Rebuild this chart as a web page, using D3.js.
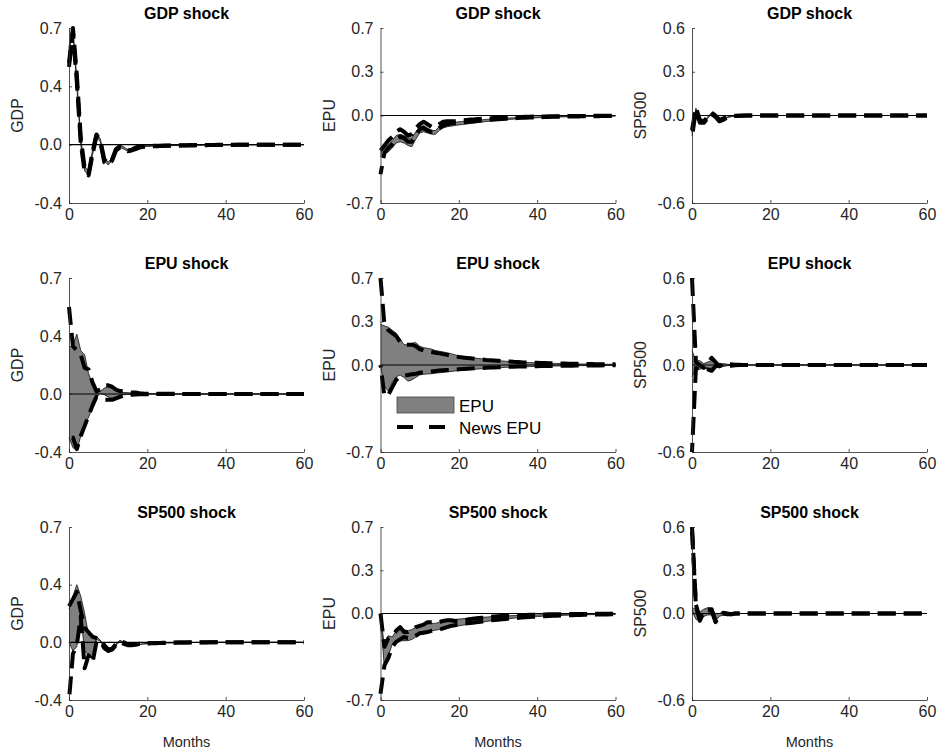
<!DOCTYPE html>
<html><head><meta charset="utf-8">
<script src="https://cdn.jsdelivr.net/npm/d3@7"></script>
<style>
html,body{margin:0;padding:0;background:#fff;}
svg{display:block;font-family:"Liberation Sans",Arial,Helvetica,sans-serif;}
</style></head><body>
<svg id="chart" width="940" height="755"></svg>
<script>
// ---------- categories / ticks ----------
const months = d3.range(0, 61);
const shockTitles = ["GDP shock", "EPU shock", "SP500 shock"];
const responseNames = ["GDP", "EPU", "SP500"];
const xTickValues = [0, 20, 40, 60];
const yTickValues = [[-0.4, 0, 0.4, 0.7], [-0.7, 0, 0.3, 0.7], [-0.6, 0, 0.3, 0.6]];
const yTickLabels = [["-0.4", "0.0", "0.4", "0.7"], ["-0.7", "0.0", "0.3", "0.7"], ["-0.6", "0.0", "0.3", "0.6"]];
const legendLabels = ["EPU", "News EPU"];
const xAxisLabel = "Months";

// ---------- GDP shock -> GDP ----------
const gdpGdpEpuHi = [0.60,0.70,0.44,0.04,-0.15,-0.18,-0.04,0.07,0.04,-0.09,-0.12,
 -0.09,-0.02,-0.005,-0.015,-0.035,-0.03,-0.02,-0.01,-0.008,-0.006,
 -0.006,-0.005,-0.005,-0.004,-0.004,-0.004,-0.003,-0.003,-0.003,-0.002,
 -0.002,-0.002,-0.002,-0.002,-0.001,-0.001,-0.001,-0.001,-0.001,-0.001,
 0,0,0,0,0,0,0,0,0,0,
 0,0,0,0,0,0,0,0,0,0];
const gdpGdpEpuLo = [0.58,0.68,0.40,0.00,-0.18,-0.21,-0.07,0.05,0.02,-0.11,-0.14,
 -0.11,-0.04,-0.02,-0.03,-0.045,-0.04,-0.03,-0.02,-0.015,-0.012,
 -0.011,-0.010,-0.009,-0.008,-0.008,-0.007,-0.006,-0.006,-0.005,-0.005,
 -0.004,-0.004,-0.004,-0.003,-0.003,-0.003,-0.002,-0.002,-0.002,-0.002,
 -0.002,-0.001,-0.001,-0.001,-0.001,-0.001,-0.001,-0.001,0,0,
 0,0,0,0,0,0,0,0,0,0];
const gdpGdpNewsHi = [0.52,0.70,0.46,0.05,-0.16,-0.20,-0.05,0.07,0.03,-0.10,-0.13,
 -0.10,-0.03,-0.01,-0.02,-0.04,-0.035,-0.02,-0.01,-0.01,-0.008,
 -0.008,-0.007,-0.007,-0.006,-0.006,-0.005,-0.005,-0.004,-0.004,-0.004,
 -0.003,-0.003,-0.003,-0.002,-0.002,-0.002,-0.002,-0.001,-0.001,-0.001,
 0,0,0,0,0,0,0,0,0,0,
 0,0,0,0,0,0,0,0,0,0];
const gdpGdpNewsLo = [0.50,0.68,0.42,0.01,-0.19,-0.21,-0.07,0.06,0.02,-0.12,-0.14,
 -0.11,-0.04,-0.02,-0.03,-0.045,-0.04,-0.03,-0.02,-0.015,-0.012,
 -0.011,-0.010,-0.010,-0.009,-0.008,-0.008,-0.007,-0.007,-0.006,-0.006,
 -0.005,-0.005,-0.004,-0.004,-0.004,-0.003,-0.003,-0.003,-0.002,-0.002,
 -0.002,-0.002,-0.001,-0.001,-0.001,-0.001,-0.001,-0.001,0,0,
 0,0,0,0,0,0,0,0,0,0];

// ---------- GDP shock -> EPU ----------
const gdpEpuEpuHi = [-0.29,-0.26,-0.23,-0.20,-0.16,-0.15,-0.16,-0.18,-0.18,-0.13,-0.09,
 -0.08,-0.10,-0.12,-0.12,-0.09,-0.07,-0.06,-0.06,-0.055,-0.05,
 -0.048,-0.045,-0.042,-0.040,-0.037,-0.034,-0.031,-0.029,-0.027,-0.025,
 -0.023,-0.021,-0.019,-0.018,-0.016,-0.015,-0.014,-0.013,-0.012,-0.011,
 -0.010,-0.009,-0.009,-0.008,-0.007,-0.007,-0.006,-0.006,-0.005,-0.005,
 -0.005,-0.004,-0.004,-0.004,-0.003,-0.003,-0.003,-0.003,-0.002,-0.002];
const gdpEpuEpuLo = [-0.33,-0.31,-0.29,-0.26,-0.22,-0.21,-0.22,-0.24,-0.25,-0.19,-0.14,
 -0.13,-0.14,-0.15,-0.15,-0.12,-0.10,-0.09,-0.085,-0.08,-0.075,
 -0.072,-0.068,-0.064,-0.060,-0.056,-0.052,-0.048,-0.045,-0.042,-0.039,
 -0.036,-0.033,-0.031,-0.029,-0.027,-0.025,-0.023,-0.021,-0.019,-0.018,
 -0.017,-0.016,-0.015,-0.014,-0.013,-0.012,-0.011,-0.010,-0.009,-0.009,
 -0.008,-0.008,-0.007,-0.007,-0.006,-0.006,-0.005,-0.005,-0.005,-0.004];
const gdpEpuNewsHi = [-0.28,-0.24,-0.20,-0.17,-0.13,-0.11,-0.13,-0.16,-0.15,-0.10,-0.07,
 -0.05,-0.07,-0.09,-0.09,-0.07,-0.05,-0.045,-0.045,-0.045,-0.04,
 -0.038,-0.035,-0.032,-0.030,-0.027,-0.025,-0.023,-0.021,-0.019,-0.017,
 -0.016,-0.015,-0.014,-0.013,-0.012,-0.011,-0.010,-0.009,-0.008,-0.008,
 -0.007,-0.007,-0.006,-0.006,-0.005,-0.005,-0.005,-0.004,-0.004,-0.004,
 -0.003,-0.003,-0.003,-0.003,-0.002,-0.002,-0.002,-0.002,-0.002,-0.001];
const gdpEpuNewsLo = [-0.47,-0.30,-0.26,-0.23,-0.19,-0.17,-0.18,-0.21,-0.21,-0.16,-0.11,
 -0.10,-0.12,-0.13,-0.13,-0.10,-0.08,-0.07,-0.065,-0.06,-0.058,
 -0.055,-0.052,-0.049,-0.046,-0.043,-0.040,-0.037,-0.035,-0.032,-0.030,
 -0.028,-0.026,-0.024,-0.022,-0.021,-0.019,-0.018,-0.017,-0.016,-0.015,
 -0.014,-0.013,-0.012,-0.011,-0.010,-0.010,-0.009,-0.008,-0.008,-0.007,
 -0.007,-0.006,-0.006,-0.005,-0.005,-0.005,-0.004,-0.004,-0.004,-0.003];

// ---------- GDP shock -> SP500 ----------
const gdpSpEpuHi = [-0.12,0.05,-0.03,-0.04,-0.01,0.02,0.0,-0.03,-0.025,-0.01,-0.005,
 -0.003,-0.002,-0.001,0,0,0,0,0,0,0,
 0,0,0,0,0,0,0,0,0,0,
 0,0,0,0,0,0,0,0,0,0,
 0,0,0,0,0,0,0,0,0,0,
 0,0,0,0,0,0,0,0,0,0];
const gdpSpEpuLo = [-0.14,0.04,-0.05,-0.05,-0.02,0.01,-0.01,-0.04,-0.03,-0.015,-0.008,
 -0.005,-0.003,-0.002,-0.001,-0.001,0,0,0,0,0,
 0,0,0,0,0,0,0,0,0,0,
 0,0,0,0,0,0,0,0,0,0,
 0,0,0,0,0,0,0,0,0,0,
 0,0,0,0,0,0,0,0,0,0];
const gdpSpNewsHi = [-0.10,0.055,-0.03,-0.04,-0.01,0.02,0.0,-0.03,-0.02,-0.01,-0.005,
 -0.002,-0.001,0,0,0,0,0,0,0,0,
 0,0,0,0,0,0,0,0,0,0,
 0,0,0,0,0,0,0,0,0,0,
 0,0,0,0,0,0,0,0,0,0,
 0,0,0,0,0,0,0,0,0,0];
const gdpSpNewsLo = [-0.15,0.04,-0.05,-0.05,-0.02,0.01,-0.01,-0.04,-0.03,-0.015,-0.008,
 -0.004,-0.002,-0.001,0,0,0,0,0,0,0,
 0,0,0,0,0,0,0,0,0,0,
 0,0,0,0,0,0,0,0,0,0,
 0,0,0,0,0,0,0,0,0,0,
 0,0,0,0,0,0,0,0,0,0];

// ---------- EPU shock -> GDP ----------
const epuGdpEpuHi = [0.32,0.34,0.41,0.30,0.27,0.14,0.07,0.005,0.02,0.04,0.05,
 0.04,0.03,0.02,0.01,0.01,0.005,0.003,0.002,0.001,0.001,
 0.001,0.001,0,0,0,0,0,0,0,0,
 0,0,0,0,0,0,0,0,0,0,
 0,0,0,0,0,0,0,0,0,0,
 0,0,0,0,0,0,0,0,0,0];
const epuGdpEpuLo = [-0.30,-0.37,-0.39,-0.29,-0.22,-0.16,-0.09,-0.02,0.005,-0.005,-0.02,
 -0.03,-0.02,-0.01,-0.005,-0.003,-0.002,-0.001,0,0,0,
 0,0,0,0,0,0,0,0,0,0,
 0,0,0,0,0,0,0,0,0,0,
 0,0,0,0,0,0,0,0,0,0,
 0,0,0,0,0,0,0,0,0,0];
const epuGdpNewsHi = [0.55,0.33,0.30,0.27,0.18,0.17,0.08,0.02,0.03,0.06,0.06,
 0.05,0.03,0.02,0.02,0.015,0.01,0.01,0.005,0.003,0.002,
 0.002,0.002,0.001,0.001,0.001,0.001,0.001,0,0,0,
 0,0,0,0,0,0,0,0,0,0,
 0,0,0,0,0,0,0,0,0,0,
 0,0,0,0,0,0,0,0,0,0];
const epuGdpNewsLo = [-0.32,-0.30,-0.38,-0.29,-0.22,-0.15,-0.08,-0.02,-0.03,-0.04,-0.04,
 -0.04,-0.03,-0.02,-0.01,-0.01,-0.005,-0.003,-0.002,-0.001,-0.001,
 -0.001,0,0,0,0,0,0,0,0,0,
 0,0,0,0,0,0,0,0,0,0,
 0,0,0,0,0,0,0,0,0,0,
 0,0,0,0,0,0,0,0,0,0];

// ---------- EPU shock -> EPU ----------
const epuEpuEpuHi = [0.28,0.27,0.26,0.24,0.22,0.18,0.14,0.14,0.15,0.155,0.13,
 0.12,0.115,0.11,0.10,0.095,0.09,0.085,0.078,0.07,0.063,
 0.059,0.055,0.051,0.048,0.045,0.042,0.039,0.036,0.033,0.030,
 0.028,0.026,0.024,0.022,0.021,0.019,0.018,0.017,0.016,0.015,
 0.014,0.013,0.012,0.011,0.011,0.010,0.009,0.009,0.008,0.008,
 0.007,0.007,0.006,0.006,0.006,0.005,0.005,0.005,0.005,0.004];
const epuEpuEpuLo = [0.0,-0.17,-0.21,-0.14,-0.095,-0.08,-0.10,-0.13,-0.12,-0.10,-0.08,
 -0.075,-0.072,-0.07,-0.066,-0.062,-0.06,-0.056,-0.052,-0.048,-0.045,
 -0.042,-0.040,-0.037,-0.035,-0.032,-0.030,-0.028,-0.026,-0.024,-0.022,
 -0.021,-0.019,-0.018,-0.017,-0.016,-0.015,-0.014,-0.013,-0.012,-0.011,
 -0.010,-0.010,-0.009,-0.008,-0.008,-0.007,-0.007,-0.006,-0.006,-0.006,
 -0.005,-0.005,-0.005,-0.004,-0.004,-0.004,-0.004,-0.003,-0.003,-0.003];
const epuEpuNewsHi = [0.70,0.28,0.24,0.22,0.20,0.16,0.14,0.14,0.14,0.13,0.11,
 0.10,0.095,0.09,0.085,0.08,0.075,0.07,0.065,0.06,0.055,
 0.052,0.049,0.046,0.043,0.040,0.038,0.035,0.033,0.031,0.029,
 0.027,0.025,0.024,0.022,0.021,0.019,0.018,0.017,0.016,0.015,
 0.014,0.013,0.012,0.012,0.011,0.010,0.010,0.009,0.009,0.008,
 0.008,0.007,0.007,0.007,0.006,0.006,0.006,0.005,0.005,0.005];
const epuEpuNewsLo = [0.0,-0.25,-0.24,-0.18,-0.12,-0.095,-0.085,-0.08,-0.075,-0.07,-0.062,
 -0.058,-0.055,-0.052,-0.048,-0.045,-0.043,-0.041,-0.039,-0.037,-0.035,
 -0.033,-0.031,-0.029,-0.027,-0.025,-0.024,-0.022,-0.021,-0.020,-0.019,
 -0.017,-0.016,-0.015,-0.014,-0.013,-0.012,-0.012,-0.011,-0.010,-0.010,
 -0.009,-0.009,-0.008,-0.008,-0.007,-0.007,-0.006,-0.006,-0.006,-0.005,
 -0.005,-0.005,-0.004,-0.004,-0.004,-0.004,-0.003,-0.003,-0.003,-0.003];

// ---------- EPU shock -> SP500 ----------
const epuSpEpuHi = [0.10,0.03,0.03,0.01,0.02,0.03,0.01,0.0,0.01,0.005,0.003,
 0.002,0.001,0,0,0,0,0,0,0,0,
 0,0,0,0,0,0,0,0,0,0,
 0,0,0,0,0,0,0,0,0,0,
 0,0,0,0,0,0,0,0,0,0,
 0,0,0,0,0,0,0,0,0,0];
const epuSpEpuLo = [-0.08,-0.03,-0.03,-0.02,-0.03,-0.02,-0.01,-0.015,-0.01,-0.005,-0.003,
 -0.002,-0.001,0,0,0,0,0,0,0,0,
 0,0,0,0,0,0,0,0,0,0,
 0,0,0,0,0,0,0,0,0,0,
 0,0,0,0,0,0,0,0,0,0,
 0,0,0,0,0,0,0,0,0,0];
const epuSpNewsHi = [0.60,0.02,0.0,-0.02,0.01,0.05,0.02,-0.01,0.01,0.01,0.005,
 0.002,0.001,0,0,0,0,0,0,0,0,
 0,0,0,0,0,0,0,0,0,0,
 0,0,0,0,0,0,0,0,0,0,
 0,0,0,0,0,0,0,0,0,0,
 0,0,0,0,0,0,0,0,0,0];
const epuSpNewsLo = [-0.60,-0.02,-0.03,-0.03,-0.03,-0.04,-0.01,0.0,-0.01,-0.01,-0.005,
 -0.002,0,0,0,0,0,0,0,0,0,
 0,0,0,0,0,0,0,0,0,0,
 0,0,0,0,0,0,0,0,0,0,
 0,0,0,0,0,0,0,0,0,0,
 0,0,0,0,0,0,0,0,0,0];

// ---------- SP500 shock -> GDP ----------
const spGdpEpuHi = [0.23,0.32,0.40,0.32,0.20,0.05,0.04,0.04,0.015,-0.03,-0.06,
 -0.05,-0.01,0.015,0.0,-0.02,-0.02,-0.02,-0.015,-0.01,-0.008,
 -0.006,-0.005,-0.004,-0.004,-0.003,-0.003,-0.002,-0.002,-0.002,-0.001,
 -0.001,-0.001,-0.001,-0.001,-0.001,0,0,0,0,0,
 0,0,0,0,0,0,0,0,0,0,
 0,0,0,0,0,0,0,0,0,0];
const spGdpEpuLo = [0.0,-0.06,-0.03,0.18,-0.06,-0.09,-0.11,0.02,0.01,-0.04,-0.07,
 -0.06,-0.02,0.005,-0.01,-0.025,-0.025,-0.02,-0.015,-0.012,-0.01,
 -0.008,-0.007,-0.006,-0.005,-0.004,-0.004,-0.003,-0.003,-0.002,-0.002,
 -0.002,-0.001,-0.001,-0.001,-0.001,0,0,0,0,0,
 0,0,0,0,0,0,0,0,0,0,
 0,0,0,0,0,0,0,0,0,0];
const spGdpNewsHi = [0.25,0.30,0.35,0.22,0.10,0.07,0.04,0.03,0.02,-0.02,-0.05,
 -0.045,-0.01,0.01,0.0,-0.015,-0.015,-0.015,-0.01,-0.008,-0.006,
 -0.005,-0.004,-0.004,-0.003,-0.003,-0.002,-0.002,-0.002,-0.001,-0.001,
 0,0,0,0,0,0,0,0,0,0,
 0,0,0,0,0,0,0,0,0,0,
 0,0,0,0,0,0,0,0,0,0];
const spGdpNewsLo = [-0.40,-0.08,-0.02,0.18,-0.18,-0.09,-0.14,0.0,0.01,-0.04,-0.06,
 -0.05,-0.02,0.0,-0.01,-0.02,-0.02,-0.015,-0.012,-0.01,-0.008,
 -0.007,-0.006,-0.005,-0.004,-0.004,-0.003,-0.003,-0.002,-0.002,-0.002,
 -0.001,-0.001,-0.001,-0.001,-0.001,0,0,0,0,0,
 0,0,0,0,0,0,0,0,0,0,
 0,0,0,0,0,0,0,0,0,0];

// ---------- SP500 shock -> EPU ----------
const spEpuEpuHi = [0.0,-0.27,-0.18,-0.19,-0.14,-0.11,-0.13,-0.14,-0.13,-0.11,-0.10,
 -0.08,-0.08,-0.08,-0.08,-0.07,-0.06,-0.05,-0.05,-0.047,-0.045,
 -0.042,-0.040,-0.037,-0.035,-0.033,-0.031,-0.029,-0.027,-0.025,-0.023,
 -0.021,-0.020,-0.018,-0.017,-0.016,-0.015,-0.014,-0.013,-0.012,-0.011,
 -0.010,-0.010,-0.009,-0.008,-0.008,-0.007,-0.007,-0.006,-0.006,-0.006,
 -0.005,-0.005,-0.005,-0.004,-0.004,-0.004,-0.004,-0.003,-0.003,-0.003];
const spEpuEpuLo = [-0.02,-0.45,-0.34,-0.25,-0.22,-0.22,-0.22,-0.22,-0.21,-0.19,-0.17,
 -0.16,-0.15,-0.14,-0.135,-0.13,-0.125,-0.12,-0.11,-0.105,-0.10,
 -0.095,-0.09,-0.085,-0.08,-0.075,-0.07,-0.065,-0.06,-0.055,-0.05,
 -0.047,-0.044,-0.041,-0.038,-0.035,-0.033,-0.031,-0.029,-0.027,-0.025,
 -0.023,-0.021,-0.020,-0.019,-0.017,-0.016,-0.015,-0.014,-0.013,-0.012,
 -0.011,-0.011,-0.010,-0.009,-0.009,-0.008,-0.008,-0.007,-0.007,-0.007];
const spEpuNewsHi = [0.0,-0.27,-0.20,-0.18,-0.14,-0.11,-0.15,-0.15,-0.13,-0.11,-0.10,
 -0.09,-0.07,-0.07,-0.07,-0.07,-0.06,-0.055,-0.055,-0.06,-0.06,
 -0.055,-0.050,-0.045,-0.040,-0.037,-0.034,-0.031,-0.028,-0.025,-0.022,
 -0.020,-0.018,-0.016,-0.015,-0.014,-0.013,-0.012,-0.011,-0.010,-0.009,
 -0.008,-0.008,-0.007,-0.007,-0.006,-0.006,-0.005,-0.005,-0.005,-0.004,
 -0.004,-0.004,-0.003,-0.003,-0.003,-0.003,-0.003,-0.002,-0.002,-0.002];
const spEpuNewsLo = [-0.65,-0.42,-0.36,-0.27,-0.23,-0.21,-0.19,-0.20,-0.20,-0.18,-0.16,
 -0.155,-0.15,-0.14,-0.135,-0.13,-0.12,-0.11,-0.10,-0.095,-0.09,
 -0.085,-0.080,-0.076,-0.072,-0.068,-0.064,-0.060,-0.056,-0.053,-0.050,
 -0.047,-0.044,-0.041,-0.038,-0.036,-0.033,-0.031,-0.029,-0.027,-0.025,
 -0.023,-0.022,-0.020,-0.019,-0.018,-0.017,-0.016,-0.015,-0.014,-0.013,
 -0.012,-0.011,-0.011,-0.010,-0.009,-0.009,-0.008,-0.008,-0.007,-0.007];

// ---------- SP500 shock -> SP500 ----------
const spSpEpuHi = [0.04,0.03,0.01,0.03,0.04,0.03,0.0,0.0,0.01,0.005,0.002,
 0.001,0,0,0,0,0,0,0,0,0,
 0,0,0,0,0,0,0,0,0,0,
 0,0,0,0,0,0,0,0,0,0,
 0,0,0,0,0,0,0,0,0,0,
 0,0,0,0,0,0,0,0,0,0];
const spSpEpuLo = [0.02,-0.04,-0.05,-0.02,-0.01,-0.01,-0.05,-0.02,-0.01,-0.005,-0.003,
 -0.001,0,0,0,0,0,0,0,0,0,
 0,0,0,0,0,0,0,0,0,0,
 0,0,0,0,0,0,0,0,0,0,
 0,0,0,0,0,0,0,0,0,0,
 0,0,0,0,0,0,0,0,0,0];
const spSpNewsHi = [0.60,0.06,-0.03,0.02,0.03,0.03,-0.05,-0.01,0.005,0.0,-0.005,
 0,0,0,0,0,0,0,0,0,0,
 0,0,0,0,0,0,0,0,0,0,
 0,0,0,0,0,0,0,0,0,0,
 0,0,0,0,0,0,0,0,0,0,
 0,0,0,0,0,0,0,0,0,0];
const spSpNewsLo = [0.58,0.05,-0.05,0.01,0.02,0.02,-0.06,-0.02,0.0,-0.005,-0.005,
 0,0,0,0,0,0,0,0,0,0,
 0,0,0,0,0,0,0,0,0,0,
 0,0,0,0,0,0,0,0,0,0,
 0,0,0,0,0,0,0,0,0,0,
 0,0,0,0,0,0,0,0,0,0];

// ---------- table built from the arrays ----------
const panels = [
  {row:0, col:0, epuHi:gdpGdpEpuHi, epuLo:gdpGdpEpuLo, newsHi:gdpGdpNewsHi, newsLo:gdpGdpNewsLo},
  {row:0, col:1, epuHi:gdpEpuEpuHi, epuLo:gdpEpuEpuLo, newsHi:gdpEpuNewsHi, newsLo:gdpEpuNewsLo},
  {row:0, col:2, epuHi:gdpSpEpuHi,  epuLo:gdpSpEpuLo,  newsHi:gdpSpNewsHi,  newsLo:gdpSpNewsLo},
  {row:1, col:0, epuHi:epuGdpEpuHi, epuLo:epuGdpEpuLo, newsHi:epuGdpNewsHi, newsLo:epuGdpNewsLo},
  {row:1, col:1, epuHi:epuEpuEpuHi, epuLo:epuEpuEpuLo, newsHi:epuEpuNewsHi, newsLo:epuEpuNewsLo},
  {row:1, col:2, epuHi:epuSpEpuHi,  epuLo:epuSpEpuLo,  newsHi:epuSpNewsHi,  newsLo:epuSpNewsLo},
  {row:2, col:0, epuHi:spGdpEpuHi,  epuLo:spGdpEpuLo,  newsHi:spGdpNewsHi,  newsLo:spGdpNewsLo},
  {row:2, col:1, epuHi:spEpuEpuHi,  epuLo:spEpuEpuLo,  newsHi:spEpuNewsHi,  newsLo:spEpuNewsLo},
  {row:2, col:2, epuHi:spSpEpuHi,   epuLo:spSpEpuLo,   newsHi:spSpNewsHi,   newsLo:spSpNewsLo}
];

// ---------- layout ----------
const colX = [69, 380.5, 692];
const plotW = 235;
const rowTop = [28, 278, 527];
const rowBot = [203, 452, 700];
const tickFrac = [[0, 1/3, 2/3, 1], [0, 0.5, 0.75, 1], [0, 0.5, 0.75, 1]];
const axisColor = "#262626";
const fontSize = 16;
const dashPattern = [18, 8];
const alignMonth = 20;

const svg = d3.select("#chart");

panels.forEach(p => {
  const x0 = colX[p.col], top = rowTop[p.row], bot = rowBot[p.row];
  const x = d3.scaleLinear().domain([0, 60]).range([x0, x0 + plotW]);
  const y = d3.scaleLinear().domain(yTickValues[p.col])
    .range(tickFrac[p.col].map(f => bot - f * (bot - top)));
  const g = svg.append("g");

  // gray EPU band
  const area = d3.area().x((d, i) => x(months[i])).y0((d, i) => y(p.epuLo[i])).y1((d, i) => y(p.epuHi[i]));
  g.append("path").datum(months).attr("d", area).attr("fill", "#808080").attr("stroke", "none");
  const lineOf = arr => d3.line().x((d, i) => x(months[i])).y((d, i) => y(arr[i]));
  [p.epuHi, p.epuLo].forEach(arr => {
    g.append("path").datum(months).attr("d", lineOf(arr))
      .attr("fill", "none").attr("stroke", "#111").attr("stroke-width", 0.8);
  });

  // zero line
  g.append("line").attr("x1", x(0)).attr("x2", x(60)).attr("y1", y(0)).attr("y2", y(0))
    .attr("stroke", "#000").attr("stroke-width", 1.2);

  // News EPU dashed lines (dash phase aligned at alignMonth so overlapping tails stay dashed)
  const period = dashPattern[0] + dashPattern[1];
  const headLen = arr => {
    const tmp = g.append("path").datum(months.slice(0, alignMonth + 1)).attr("d", lineOf(arr));
    const L = tmp.node().getTotalLength();
    tmp.remove();
    return L;
  };
  const refLen = headLen(p.newsHi);
  [p.newsHi, p.newsLo].forEach(arr => {
    const off = ((refLen - headLen(arr)) % period + period) % period;
    g.append("path").datum(months).attr("d", lineOf(arr))
      .attr("fill", "none").attr("stroke", "#000").attr("stroke-width", 4)
      .attr("stroke-dasharray", dashPattern.join(","))
      .attr("stroke-dashoffset", off)
      .attr("stroke-linejoin", "round");
  });

  // axes
  const ya = d3.axisLeft(y).tickValues(yTickValues[p.col])
    .tickFormat((d, i) => yTickLabels[p.col][i]).tickSizeInner(-3).tickSizeOuter(0).tickPadding(7);
  const yg = g.append("g").attr("transform", `translate(${x0},0)`).call(ya);
  const xa = d3.axisBottom(x).tickValues(xTickValues).tickSizeInner(-3).tickSizeOuter(0).tickPadding(6);
  const xg = g.append("g").attr("transform", `translate(0,${bot})`).call(xa);
  [yg, xg].forEach(ag => {
    ag.select(".domain").attr("stroke", axisColor).attr("stroke-width", 0.8);
    ag.selectAll(".tick line").attr("stroke", axisColor).attr("stroke-width", 0.8);
    ag.selectAll(".tick text").attr("fill", axisColor)
      .style("font-size", fontSize + "px").style("font-family", '"Liberation Sans", Arial, sans-serif');
  });

  // title
  g.append("text").attr("x", x0 + plotW / 2).attr("y", top - 9.5)
    .attr("text-anchor", "middle").attr("font-weight", "bold").attr("font-size", fontSize)
    .attr("fill", "#000").text(shockTitles[p.row]);

  // y label
  g.append("text").attr("transform", `translate(${x0 - 46},${(top + bot) / 2}) rotate(-90)`)
    .attr("text-anchor", "middle").attr("font-size", fontSize).attr("fill", axisColor)
    .text(responseNames[p.col]);

  // x label for bottom row
  if (p.row === 2) {
    g.append("text").attr("x", x0 + plotW / 2).attr("y", bot + 47)
      .attr("text-anchor", "middle").attr("font-size", 14.5).attr("fill", axisColor)
      .text(xAxisLabel);
  }

  // legend in center panel
  if (p.row === 1 && p.col === 1) {
    const lx = x0 + 16.5, ly = top + 119;
    const lg = g.append("g");
    lg.append("rect").attr("x", lx).attr("y", ly).attr("width", 57).attr("height", 16)
      .attr("fill", "#808080").attr("stroke", "#444").attr("stroke-width", 0.8);
    lg.append("line").attr("x1", lx).attr("x2", lx + 48).attr("y1", ly + 30).attr("y2", ly + 30)
      .attr("stroke", "#000").attr("stroke-width", 4).attr("stroke-dasharray", "16,16");
    lg.append("text").attr("x", lx + 62).attr("y", ly + 15).attr("font-size", 17)
      .attr("fill", "#000").text(legendLabels[0]);
    lg.append("text").attr("x", lx + 62).attr("y", ly + 37).attr("font-size", 17)
      .attr("fill", "#000").text(legendLabels[1]);
  }
});
</script>
</body></html>
